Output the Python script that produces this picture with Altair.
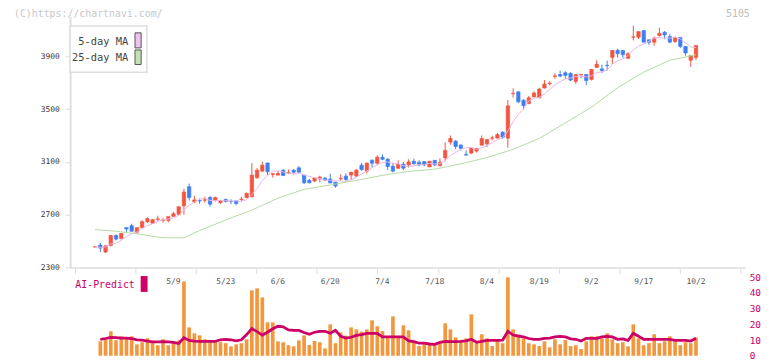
import altair as alt
import pandas as pd

# ---------------- data ----------------
opens = [2455, 2470, 2417, 2467, 2542, 2520, 2602, 2617, 2567, 2602,
         2647, 2635, 2665, 2658, 2657, 2687, 2702, 2767, 2912, 2797,
         2807, 2810, 2830, 2807, 2792, 2815, 2802, 2805, 2815, 2830,
         2835, 2980, 3030, 3092, 3005, 3000, 3037, 3017, 3037, 3055,
         3000, 2960, 2955, 2972, 2977, 2970, 2947, 2972, 2992, 3000,
         2992, 3075, 3030, 3112, 3090, 3135, 3120, 3067, 3052, 3082,
         3077, 3105, 3097, 3102, 3062, 3112, 3070, 3130, 3250, 3257,
         3227, 3155, 3167, 3182, 3227, 3237, 3280, 3280, 3325, 3280,
         3617, 3630, 3567, 3542, 3592, 3585, 3660, 3693, 3748, 3762,
         3775, 3770, 3710, 3760, 3762, 3725, 3817, 3805, 3832, 3892,
         3945, 3945, 3885, 4045, 4045, 4095, 4025, 4007, 4057, 4082,
         4050, 4012, 4042, 3975, 3870, 3892]
highs = [2460, 2485, 2465, 2547, 2552, 2562, 2602, 2632, 2602, 2657,
         2680, 2665, 2692, 2677, 2685, 2722, 2762, 2895, 2935, 2842,
         2822, 2837, 2842, 2837, 2812, 2822, 2817, 2805, 2835, 2867,
         3092, 3055, 3102, 3092, 3017, 3032, 3045, 3042, 3045, 3067,
         3000, 2972, 2977, 2995, 2987, 3010, 2947, 3005, 3012, 3022,
         3047, 3092, 3097, 3120, 3150, 3157, 3130, 3092, 3112, 3100,
         3120, 3125, 3112, 3102, 3105, 3112, 3127, 3247, 3300, 3265,
         3235, 3187, 3207, 3202, 3300, 3270, 3297, 3320, 3332, 3570,
         3657, 3637, 3575, 3600, 3635, 3662, 3720, 3712, 3770, 3792,
         3787, 3780, 3762, 3762, 3762, 3800, 3870, 3837, 3867, 3945,
         3957, 3945, 3930, 4132, 4087, 4095, 4025, 4050, 4117, 4092,
         4070, 4050, 4042, 3975, 3907, 3982]
lows = [2452, 2417, 2410, 2460, 2505, 2512, 2570, 2572, 2555, 2600,
        2637, 2632, 2652, 2640, 2642, 2687, 2697, 2700, 2807, 2787,
        2782, 2792, 2762, 2800, 2782, 2792, 2780, 2772, 2802, 2825,
        2835, 2972, 3025, 3000, 2982, 2997, 2997, 3007, 3005, 3017,
        2932, 2937, 2947, 2945, 2955, 2940, 2905, 2957, 2955, 2962,
        2987, 3032, 3012, 3057, 3075, 3112, 3040, 3020, 3047, 3037,
        3057, 3080, 3067, 3067, 3062, 3067, 3070, 3105, 3230, 3197,
        3187, 3147, 3160, 3170, 3222, 3212, 3262, 3280, 3275, 3207,
        3587, 3545, 3497, 3537, 3592, 3585, 3655, 3680, 3730, 3742,
        3730, 3712, 3692, 3735, 3682, 3717, 3812, 3775, 3792, 3842,
        3890, 3887, 3880, 4020, 4030, 4007, 3987, 3980, 4050, 4030,
        4000, 4000, 3962, 3905, 3820, 3872]
closes = [2458, 2447, 2465, 2542, 2515, 2557, 2592, 2575, 2602, 2647,
          2670, 2662, 2668, 2660, 2685, 2707, 2760, 2872, 2830, 2812,
          2804, 2812, 2780, 2830, 2807, 2800, 2800, 2785, 2818, 2862,
          3000, 3037, 3075, 3025, 3010, 3012, 2997, 3020, 3022, 3022,
          2942, 2942, 2977, 2985, 2962, 2940, 2917, 2975, 2967, 3022,
          3037, 3042, 3090, 3090, 3135, 3120, 3065, 3030, 3082, 3052,
          3100, 3085, 3077, 3077, 3105, 3077, 3097, 3187, 3277, 3217,
          3202, 3152, 3202, 3202, 3277, 3270, 3282, 3307, 3287, 3525,
          3620, 3555, 3527, 3585, 3622, 3652, 3690, 3697, 3752, 3750,
          3755, 3720, 3762, 3763, 3717, 3800, 3840, 3792, 3830, 3945,
          3920, 3912, 3920, 4047, 4087, 4007, 4007, 4037, 4075, 4062,
          4007, 4042, 3975, 3925, 3907, 3982]

# volume bars and AI-Predict line (from the 2nd candle on)
volumes = [9.2, 10.5, 15.6, 9.9, 12.4, 11.5, 12.4, 7.3, 8.6, 11.1,
           8.6, 6.7, 10.5, 6.7, 8.6, 9.8, 47.4, 18.1, 14.3, 13.0,
           10.5, 8.6, 8.6, 8.6, 8.0, 6.0, 7.3, 8.0, 10.5, 41.7,
           43.0, 37.2, 21.3, 21.3, 9.2, 8.6, 6.7, 6.0, 9.8, 13.0,
           6.9, 9.4, 8.6, 4.7, 20.0, 8.0, 14.9, 12.8, 18.1, 16.8,
           15.4, 16.8, 22.6, 18.8, 15.8, 11.7, 25.1, 11.7, 19.4, 16.2,
           9.0, 6.2, 8.6, 6.9, 6.9, 8.6, 20.7, 16.8, 11.7, 8.6,
           11.1, 26.4, 8.0, 13.7, 11.1, 6.2, 10.1, 8.0, 50.0, 16.8,
           13.7, 11.1, 8.0, 7.3, 6.2, 9.2, 5.4, 10.5, 7.3, 10.1,
           6.2, 6.7, 4.3, 9.2, 12.4, 12.4, 11.1, 14.3, 10.5, 8.0,
           8.6, 6.0, 20.0, 11.1, 6.7, 8.0, 13.7, 8.0, 9.2, 12.4,
           9.2, 6.7, 8.6, 8.0, 11.7]
ai_predict = [10.5, 11.0, 11.7, 11.5, 11.2, 11.2, 11.0, 10.1, 10.0, 9.4,
              8.8, 8.8, 9.0, 8.8, 8.5, 7.8, 11.5, 9.8, 9.3, 9.2,
              9.2, 9.2, 9.2, 10.2, 10.5, 10.2, 9.5, 10.2, 13.5, 17.3,
              15.4, 13.2, 15.0, 17.2, 18.8, 18.5, 16.5, 16.2, 16.2, 14.8,
              13.7, 15.0, 15.6, 15.6, 14.3, 16.2, 12.4, 11.3, 11.8, 13.0,
              13.5, 14.3, 14.3, 14.3, 12.0, 12.0, 12.0, 12.0, 12.0, 9.5,
              9.0, 8.0, 8.0, 7.5, 7.3, 8.5, 9.2, 9.0, 9.0, 9.2,
              9.5, 10.5, 8.6, 9.2, 9.8, 9.8, 9.8, 10.0, 15.6, 13.2,
              12.5, 12.0, 11.0, 10.5, 10.5, 11.1, 11.2, 12.0, 12.4, 12.0,
              10.8, 10.5, 9.4, 11.1, 11.1, 11.1, 12.0, 12.4, 12.0, 10.5,
              10.8, 9.8, 14.3, 12.4, 10.5, 10.5, 10.5, 10.5, 10.5, 10.5,
              9.8, 9.8, 9.8, 9.4, 11.1]

# 25-day moving average, read at trading-day positions
ma25_day = [0, 4, 8, 13, 17, 20, 25, 30, 35, 40, 45, 50, 55, 60, 65,
            70, 75, 80, 85, 90, 95, 100, 105, 110, 115]
ma25_val = [2587, 2575, 2555, 2525, 2525, 2580, 2660, 2735, 2825, 2892,
            2925, 2960, 2998, 3028, 3045, 3085, 3133, 3195, 3278, 3395,
            3515, 3662, 3780, 3870, 3912]

date_labels = ["5/9", "5/23", "6/6", "6/20", "7/4", "7/18", "8/4",
               "8/19", "9/2", "9/17", "10/2"]
date_label_day = [15, 25, 35, 45, 55, 65, 75, 85, 95, 105, 115]

price_ticks = [2300, 2700, 3100, 3500, 3900]
vol_ticks = [0, 10, 20, 30, 40, 50]
legend_labels = ["5-day MA", "25-day MA"]

# ---------------- styling ----------------
FONT = "DejaVu Sans Mono"
RED, BLUE = "#f4553f", "#3f7ff0"
PINK, GREEN = "#e8b6e8", "#b4dba4"
ORANGE, MAGENTA = "#f2973e", "#cc0066"
W, H = 682, 342.5
PRICE_RANGE = [253.33, 0]
VOL_RANGE = [342.5, 263.3]
X_DOM = [-3.845, 123.47]

n = len(opens)
candles = pd.DataFrame({
    "day": list(range(n)), "open": opens, "high": highs,
    "low": lows, "close": closes,
})
candles["dir"] = ["up" if c >= o else "down" for o, c in zip(opens, closes)]
vol_df = pd.DataFrame({"day": list(range(1, n)), "vol": volumes, "ai": ai_predict})
ma25_df = pd.DataFrame({"day": ma25_day, "ma": ma25_val})
dates_df = pd.DataFrame({"day": date_label_day, "label": date_labels})
one = pd.DataFrame({"a": [0]})

xscale = alt.Scale(domain=X_DOM, nice=False, zero=False)
pscale = alt.Scale(domain=[2300, 4200], range=PRICE_RANGE, nice=False, zero=False)
vscale = alt.Scale(domain=[0, 50], range=VOL_RANGE, nice=False, zero=True)
dir_scale = alt.Scale(domain=["up", "down"], range=[RED, BLUE])

step = (X_DOM[1] - X_DOM[0]) / 11
x_tick_vals = [X_DOM[0] + k * step for k in range(12)]

x_axis = alt.Axis(values=x_tick_vals, labels=False, grid=False, tickSize=6,
                  domainColor="#dddddd", tickColor="#dddddd", domainWidth=1.5,
                  offset=-(H - PRICE_RANGE[0]), title=None)
p_axis = alt.Axis(values=price_ticks, format="d", grid=False, tickSize=5,
                  domainColor="#dddddd", domainWidth=2, tickColor="#dddddd",
                  labelFont=FONT, labelFontSize=8, labelColor="#333333",
                  labelPadding=6, title=None)
v_axis = alt.Axis(values=vol_ticks, format="d", orient="right", grid=False, domain=False,
                  ticks=False, labelFont=FONT, labelFontSize=9.5, labelColor=MAGENTA,
                  labelPadding=4, title=None)


def X(field):
    return alt.X(field, scale=xscale, axis=x_axis, title=None)


def PY(field):
    return alt.Y(field, scale=pscale, axis=p_axis, title=None)


def VY(field):
    return alt.Y(field, scale=vscale, axis=v_axis, title=None)


base = alt.Chart(candles)
wicks = base.mark_rule(strokeWidth=1).encode(
    x=X("day:Q"), y=PY("low:Q"), y2="high:Q",
    color=alt.Color("dir:N", scale=dir_scale, legend=None),
)
bodies = base.mark_bar(size=3.4, strokeWidth=0.7).encode(
    x=X("day:Q"), y=PY("open:Q"), y2="close:Q",
    color=alt.Color("dir:N", scale=dir_scale, legend=None),
    stroke=alt.Stroke("dir:N", scale=dir_scale, legend=None),
)
ma5 = base.transform_window(
    ma5="mean(close)", frame=[-4, 0], sort=[alt.SortField("day")]
).mark_line(color=PINK, strokeWidth=1).encode(x=X("day:Q"), y=PY("ma5:Q"))
ma25 = alt.Chart(ma25_df).mark_line(color=GREEN, strokeWidth=1).encode(
    x=X("day:Q"), y=PY("ma:Q"))

# legend box
leg_box = alt.Chart(one).mark_rect(fill="white", stroke="#dddddd", strokeWidth=1.5).encode(
    x=alt.value(0), x2=alt.value(77.6), y=alt.value(9.3), y2=alt.value(56))
leg_t1 = alt.Chart(pd.DataFrame({"t": [legend_labels[0]]})).mark_text(
    align="right", baseline="middle", font=FONT, fontSize=10.5, color="#444444"
).encode(text="t:N", x=alt.value(58.8), y=alt.value(25.3))
leg_t2 = alt.Chart(pd.DataFrame({"t": [legend_labels[1]]})).mark_text(
    align="right", baseline="middle", font=FONT, fontSize=10.5, color="#444444"
).encode(text="t:N", x=alt.value(58.8), y=alt.value(41.5))
leg_s1 = alt.Chart(one).mark_rect(fill="#f0c2f0", stroke="#555555", strokeWidth=1).encode(
    x=alt.value(65.6), x2=alt.value(71.8), y=alt.value(16.3), y2=alt.value(31.5))
leg_s2 = alt.Chart(one).mark_rect(fill="#c2e2b4", stroke="#555555", strokeWidth=1).encode(
    x=alt.value(65.6), x2=alt.value(71.8), y=alt.value(33.6), y2=alt.value(48.3))

copyright_t = alt.Chart(pd.DataFrame({"t": ["(C)https://chartnavi.com/"]})).mark_text(
    align="left", baseline="middle", font=FONT, fontSize=10, color="#c8c8c8"
).encode(text="t:N", x=alt.value(-56.7), y=alt.value(-2.6))
code_t = alt.Chart(pd.DataFrame({"t": ["5105"]})).mark_text(
    align="left", baseline="middle", font=FONT, fontSize=10, color="#bdbdbd"
).encode(text="t:N", x=alt.value(662.6), y=alt.value(-2.8))

date_t = alt.Chart(dates_df).mark_text(
    align="center", baseline="middle", font=FONT, fontSize=8, color="#555555"
).encode(x=X("day:Q"), y=alt.value(267.7), text="label:N")

price_layer = alt.layer(leg_box, wicks, bodies, ma5, ma25, leg_t1, leg_t2, leg_s1, leg_s2,
                        copyright_t, code_t, date_t)

vol_bars = alt.Chart(vol_df).mark_bar(size=3.7, color=ORANGE).encode(
    x=X("day:Q"), y=VY("vol:Q"))
ai_line = alt.Chart(vol_df).mark_line(color=MAGENTA, strokeWidth=2.8).encode(
    x=X("day:Q"), y=VY("ai:Q"))
ai_t = alt.Chart(pd.DataFrame({"t": ["AI-Predict"]})).mark_text(
    align="left", baseline="middle", font=FONT, fontSize=10, color=MAGENTA
).encode(text="t:N", x=alt.value(5.3), y=alt.value(271))
ai_s = alt.Chart(one).mark_rect(fill=MAGENTA).encode(
    x=alt.value(71.3), x2=alt.value(78.3), y=alt.value(262), y2=alt.value(278))

vol_layer = alt.layer(vol_bars, ai_line, ai_t, ai_s)

chart = alt.layer(price_layer, vol_layer).resolve_scale(
    y="independent"
).resolve_axis(y="independent").properties(
    width=W, height=H,
    autosize=alt.AutoSizeParams(type="none"),
    padding={"left": 62.7, "top": 7, "right": 19, "bottom": 3.5},
    background="white",
).configure_view(stroke=None)

chart.save("out.html", embed_options={"renderer": "svg", "actions": False})
